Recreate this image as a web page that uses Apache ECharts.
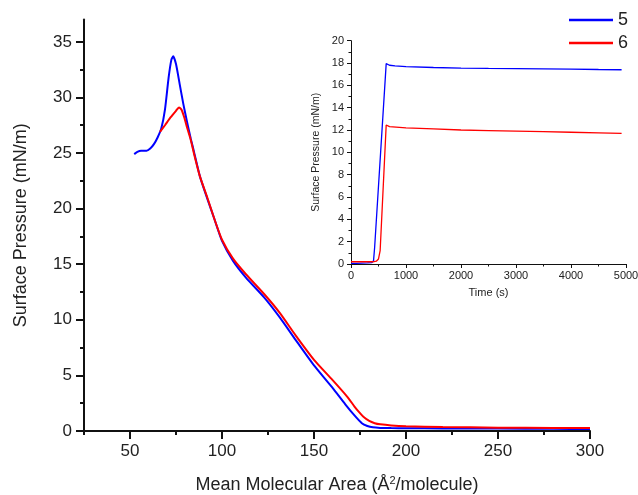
<!DOCTYPE html>
<html>
<head>
<meta charset="utf-8">
<script src="https://cdn.jsdelivr.net/npm/echarts@6/dist/echarts.min.js"></script>
<style>html,body{margin:0;padding:0;background:#fff}#c{width:638px;height:495px}</style>
</head>
<body>
<div id="c"></div>
<script>
// Main isotherm: Mean molecular area (Å²/molecule) vs surface pressure (mN/m)
const area5 = [52.3,54,56,59,61,63,65,67,69,71,72.5,73.5,75,77,79,81,83,84.5,88,92,96,100,106,113,123,131.5,140,150,160,167,172,176,179,182,186,192,200,220,250,280,300];
const pres5 = [24.9,25.1,25.2,25.2,25.4,25.8,26.4,27.2,28.9,31.8,33.4,33.7,33.0,31.2,29.4,27.8,26.3,25.3,22.9,20.9,19.0,17.1,15.3,13.8,12.0,10.2,8.2,5.9,3.9,2.4,1.4,0.7,0.45,0.33,0.28,0.26,0.25,0.23,0.22,0.2,0.18];
const area6 = [66.3,69,72,75,76.6,78,79.5,81,83,85,88,92,96,100,106,113,123,131.5,140,150,160,168,172,175,177,180,183,186,192,200,220,250,280,300];
const pres6 = [26.9,27.5,28.2,28.8,29.1,28.9,28.2,27.3,26.2,24.8,22.9,21.0,19.0,17.2,15.5,14.1,12.3,10.6,8.6,6.4,4.6,3.1,2.2,1.6,1.25,0.9,0.7,0.6,0.5,0.43,0.36,0.3,0.28,0.27];
// Inset: time (s) vs surface pressure (mN/m)
const time5 = [0,100,200,300,380,410,430,640,660,700,800,1000,1500,2000,2500,3000,3500,4000,4500,4920];
const ins5  = [0.05,0.05,0.08,0.1,0.12,0.3,1.5,17.95,17.85,17.8,17.75,17.68,17.6,17.55,17.52,17.5,17.48,17.45,17.42,17.4];
const time6 = [0,200,400,460,500,530,640,660,700,1000,1500,2000,2500,3000,3500,4000,4500,4920];
const ins6  = [0.2,0.2,0.2,0.25,0.45,1.2,12.45,12.35,12.3,12.2,12.1,12.0,11.95,11.9,11.85,11.8,11.75,11.7];
// Tick values
const mainXMajor = [50,100,150,200,250,300];
const mainXMinor = [25,75,125,175,225,275];
const mainYMajor = [0,5,10,15,20,25,30,35];
const mainYMinor = [2.5,7.5,12.5,17.5,22.5,27.5,32.5];
const insXMajor = [0,1000,2000,3000,4000,5000];
const insXMinor = [500,1500,2500,3500,4500];
const insYMajor = [0,2,4,6,8,10,12,14,16,18,20];
const insYMinor = [1,3,5,7,9,11,13,15,17,19];
const legendNames = ['5','6'];

const pairs = (xs, ys) => xs.map((x, i) => [x, ys[i]]);
const FONT = "'Liberation Sans', Arial, sans-serif";
const BLUE = '#0000ff', RED = '#ff0000';

function axisPair(gridIndex, min, max, major, minor, lblSize, majLen, minLen, lblMargin, isX, name, nameGap, nameSize, axW) {
  const main = {
    type: 'value', gridIndex, min, max, splitLine: {show: false},
    axisLine: {show: true, onZero: false, lineStyle: {color: '#111', width: axW}},
    axisTick: {show: true, inside: false, length: majLen, customValues: major, lineStyle: {color: '#111', width: axW}},
    axisLabel: {show: true, customValues: major, margin: lblMargin, fontSize: lblSize, color: '#222', fontFamily: FONT,
                formatter: v => String(v)},
    name, nameLocation: 'middle', nameGap,
    nameTextStyle: {fontSize: nameSize, color: '#222', fontFamily: FONT}
  };
  const mn = {
    type: 'value', gridIndex, min, max, splitLine: {show: false},
    axisLine: {show: false, onZero: false},
    axisTick: {show: true, inside: false, length: minLen, customValues: minor, lineStyle: {color: '#111', width: axW}},
    axisLabel: {show: false}
  };
  if (isX) { main.position = 'bottom'; mn.position = 'bottom'; }
  else { main.position = 'left'; mn.position = 'left'; }
  return [main, mn];
}

const [mx, mxm] = axisPair(0, 25, 300, mainXMajor, mainXMinor, 17, 8, 4, 12, true,
  'Mean Molecular Area (Å{sup|2}/molecule)', 44, 18, 2);
mx.nameTextStyle.rich = {sup: {fontSize: 11, fontFamily: FONT, color: '#222', padding: [0, 0, 10, 0]}};
const [my, mym] = axisPair(0, 0, 37, mainYMajor, mainYMinor, 17, 8, 4, 12, false,
  'Surface Pressure (mN/m)', 54, 18, 2);
const [ix, ixm] = axisPair(1, 0, 5000, insXMajor, insXMinor, 11, 4, 2.5, 6, true,
  'Time (s)', 23, 11, 1);
const [iy, iym] = axisPair(1, 0, 20, insYMajor, insYMinor, 11, 4, 2.5, 7, false,
  'Surface Pressure (mN/m)', 29, 10.5, 1);

const chart = echarts.init(document.getElementById('c'), null, {renderer: 'canvas'});
chart.setOption({
  backgroundColor: '#fff',
  animation: false,
  textStyle: {fontFamily: FONT},
  grid: [
    {left: 84, right: 48, top: 19.6, bottom: 64, containLabel: false, outerBoundsMode: 'none'},
    {left: 351, right: 12, top: 40.7, bottom: 231, containLabel: false, outerBoundsMode: 'none'}
  ],
  legend: {
    orient: 'vertical', left: 569, top: 10, padding: 0, itemGap: 3,
    itemWidth: 44, itemHeight: 2.5, icon: 'rect',
    data: legendNames,
    textStyle: {fontSize: 18, color: '#222', fontFamily: FONT, lineHeight: 20}
  },
  xAxis: [mx, mxm, ix, ixm],
  yAxis: [my, mym, iy, iym],
  series: [
    {name: legendNames[0], type: 'line', xAxisIndex: 0, yAxisIndex: 0, data: pairs(area5, pres5),
     showSymbol: false, smooth: 0.2, color: BLUE, lineStyle: {width: 2, color: BLUE}, z: 3},
    {name: legendNames[1], type: 'line', xAxisIndex: 0, yAxisIndex: 0, data: pairs(area6, pres6),
     showSymbol: false, smooth: 0.2, color: RED, lineStyle: {width: 2, color: RED}, z: 4},
    {name: legendNames[0], type: 'line', xAxisIndex: 2, yAxisIndex: 2, data: pairs(time5, ins5),
     showSymbol: false, color: BLUE, lineStyle: {width: 1.3, color: BLUE}},
    {name: legendNames[1], type: 'line', xAxisIndex: 2, yAxisIndex: 2, data: pairs(time6, ins6),
     showSymbol: false, color: RED, lineStyle: {width: 1.3, color: RED}}
  ]
});
</script>
</body>
</html>
